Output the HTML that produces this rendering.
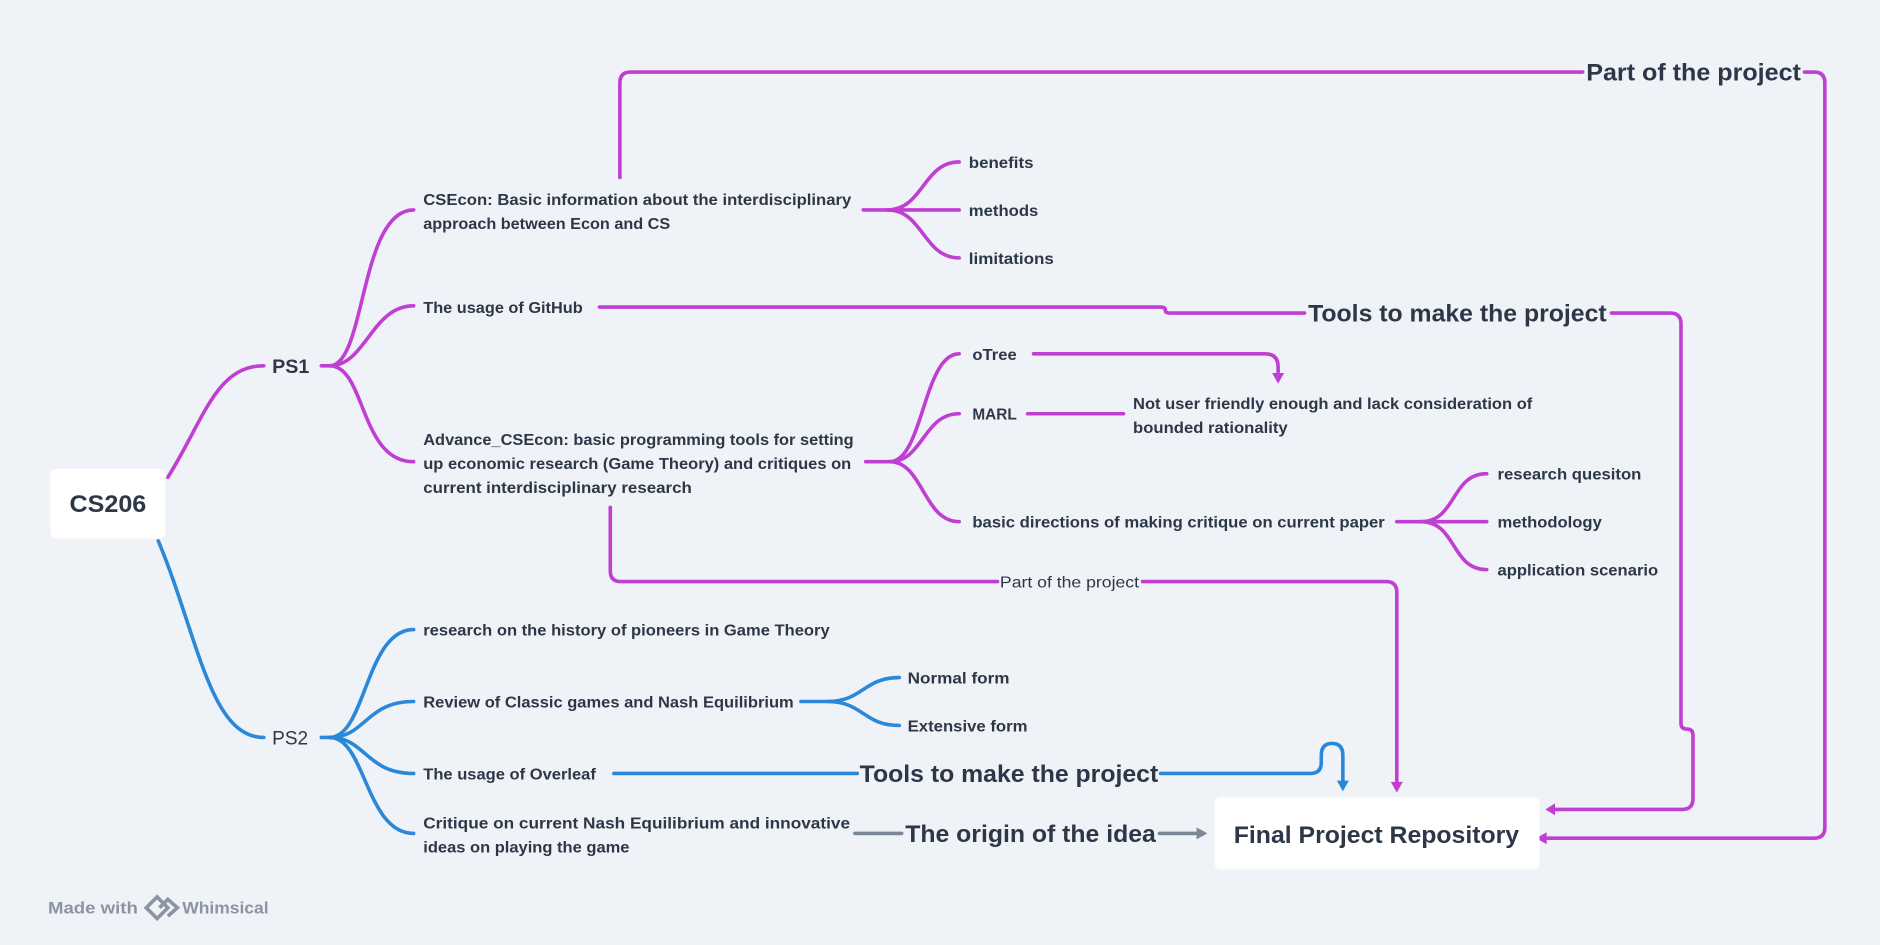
<!DOCTYPE html>
<html><head><meta charset="utf-8"><style>
html,body{margin:0;padding:0;background:#eff3f7;}
svg{display:block}
text{font-family:"Liberation Sans",sans-serif;fill:#2d3748;}
.b{font-weight:bold}
</style></head><body>
<svg width="1880" height="945" viewBox="0 0 1568 788" xmlns="http://www.w3.org/2000/svg">
<rect width="1568" height="788" fill="#eff3f7"/>
<g fill="none" stroke-width="3" stroke-linecap="round">
<g stroke="#c03fd3">
<path d="M140 398 C170 350,180 305,220 305"/>
<path d="M268 305 L275 305 C305 305,300 175,345 175"/>
<path d="M275 305 C305 305,310 255,345 255"/>
<path d="M275 305 C305 305,300 385,345 385"/>
<path d="M720 175 L740 175 C770 175,770 135,800 135"/>
<path d="M740 175 L800 175"/>
<path d="M740 175 C770 175,770 215,800 215"/>
<path d="M722 385 L742 385 C770 385,770 295,800 295"/>
<path d="M742 385 C770 385,770 345,800 345"/>
<path d="M742 385 C770 385,770 435,800 435"/>
<path d="M1165 435 L1185 435 C1215 435,1210 395,1240 395"/>
<path d="M1185 435 L1240 435"/>
<path d="M1185 435 C1215 435,1210 475,1240 475"/>
<path d="M862 295 L1055 295 Q1066 295,1066 306 L1066 312"/>
<path d="M857 345 L937 345"/>
<path d="M500 256 L968 256 Q972 256,972 259 Q972 261,976 261 L1088 261"/>
<path d="M1344 261 L1393 261 Q1402 261,1402 270 L1402 603 Q1402 608,1407 608 Q1412 608,1412 613 L1412 666 Q1412 675,1403 675 L1296 675"/>
<path d="M517 148 L517 69 Q517 60,526 60 L1320 60"/>
<path d="M1505 60 L1513 60 Q1522 60,1522 69 L1522 690 Q1522 699,1513 699 L1290 699"/>
<path d="M509 423 L509 476 Q509 485,518 485 L832 485"/>
<path d="M953 485 L1156 485 Q1165 485,1165 494 L1165 652"/>
</g>
<g stroke="#2b88d8">
<path d="M132 451 C165 530,175 615,220 615"/>
<path d="M268 615 L275 615 C305 615,305 525,345 525"/>
<path d="M275 615 C305 615,305 585,345 585"/>
<path d="M275 615 C305 615,305 645,345 645"/>
<path d="M275 615 C305 615,305 695,345 695"/>
<path d="M668 585 L690 585 C720 585,720 565,750 565"/>
<path d="M690 585 C720 585,720 605,750 605"/>
<path d="M512 645 L715 645"/>
<path d="M968 645 L1093 645 Q1102 645,1102 636 L1102 630 Q1102 620,1111 620 Q1120 620,1120 630 L1120 652"/>
</g>
<g stroke="#7a8796">
<path d="M713 695 L752 695"/>
<path d="M967 695 L1000 695"/>
</g>
</g>
<g fill="#c03fd3">
<polygon points="1061,311 1071,311 1066,320"/>
<polygon points="1160,652 1170,652 1165,661"/>
<polygon points="1297,670 1297,680 1289,675"/>
<polygon points="1290,694 1290,704 1281,699"/>
</g>
<polygon fill="#2b88d8" points="1115,651 1125,651 1120,660"/>
<polygon fill="#7a8796" points="998,690 998,700 1007,695"/>
<rect x="42" y="391" width="96" height="58" rx="5" fill="#fff"/>
<rect x="1013" y="665" width="271" height="60" rx="5" fill="#fff"/>
<g class="b">
<text x="58" y="427" font-size="20" textLength="64" lengthAdjust="spacingAndGlyphs">CS206</text>
<text x="227" y="311" font-size="16" textLength="31" lengthAdjust="spacingAndGlyphs">PS1</text>
<text x="1029" y="703" font-size="20" textLength="238" lengthAdjust="spacingAndGlyphs">Final Project Repository</text>
<text x="1323" y="67" font-size="20" textLength="179" lengthAdjust="spacingAndGlyphs">Part of the project</text>
<text x="1091" y="268" font-size="20" textLength="249" lengthAdjust="spacingAndGlyphs">Tools to make the project</text>
<text x="717" y="652" font-size="20" textLength="249" lengthAdjust="spacingAndGlyphs">Tools to make the project</text>
<text x="755" y="702" font-size="20" textLength="209" lengthAdjust="spacingAndGlyphs">The origin of the idea</text>
</g>
<text x="227" y="621" font-size="16" textLength="30" lengthAdjust="spacingAndGlyphs">PS2</text>
<text x="834" y="490" font-size="13" textLength="116" lengthAdjust="spacingAndGlyphs">Part of the project</text>
<g class="b" font-size="13">
<text x="353" y="171" textLength="357" lengthAdjust="spacingAndGlyphs">CSEcon: Basic information about the  interdisciplinary</text>
<text x="353" y="191" textLength="206" lengthAdjust="spacingAndGlyphs">approach between Econ and CS</text>
<text x="353" y="261" textLength="133" lengthAdjust="spacingAndGlyphs">The usage of GitHub</text>
<text x="353" y="371" textLength="359" lengthAdjust="spacingAndGlyphs">Advance_CSEcon: basic programming tools for setting</text>
<text x="353" y="391" textLength="357" lengthAdjust="spacingAndGlyphs">up economic research (Game Theory) and critiques on</text>
<text x="353" y="411" textLength="224" lengthAdjust="spacingAndGlyphs">current interdisciplinary research</text>
<text x="808" y="140" textLength="54" lengthAdjust="spacingAndGlyphs">benefits</text>
<text x="808" y="180" textLength="58" lengthAdjust="spacingAndGlyphs">methods</text>
<text x="808" y="220" textLength="71" lengthAdjust="spacingAndGlyphs">limitations</text>
<text x="811" y="300" textLength="37" lengthAdjust="spacingAndGlyphs">oTree</text>
<text x="811" y="350" textLength="37" lengthAdjust="spacingAndGlyphs">MARL</text>
<text x="945" y="341" textLength="333" lengthAdjust="spacingAndGlyphs">Not user friendly enough and lack consideration of</text>
<text x="945" y="361" textLength="129" lengthAdjust="spacingAndGlyphs">bounded rationality</text>
<text x="811" y="440" textLength="344" lengthAdjust="spacingAndGlyphs">basic directions of making critique on current paper</text>
<text x="1249" y="400" textLength="120" lengthAdjust="spacingAndGlyphs">research quesiton</text>
<text x="1249" y="440" textLength="87" lengthAdjust="spacingAndGlyphs">methodology</text>
<text x="1249" y="480" textLength="134" lengthAdjust="spacingAndGlyphs">application scenario</text>
<text x="353" y="530" textLength="339" lengthAdjust="spacingAndGlyphs">research on the history of pioneers in Game Theory</text>
<text x="353" y="590" textLength="309" lengthAdjust="spacingAndGlyphs">Review of Classic games and Nash Equilibrium</text>
<text x="757" y="570" textLength="85" lengthAdjust="spacingAndGlyphs">Normal form</text>
<text x="757" y="610" textLength="100" lengthAdjust="spacingAndGlyphs">Extensive form</text>
<text x="353" y="650" textLength="144" lengthAdjust="spacingAndGlyphs">The usage of Overleaf</text>
<text x="353" y="691" textLength="356" lengthAdjust="spacingAndGlyphs">Critique on current Nash Equilibrium and innovative</text>
<text x="353" y="711" textLength="172" lengthAdjust="spacingAndGlyphs">ideas on playing the game</text>
</g>
<g class="b" font-size="14">
<text x="40" y="762" style="fill:#8a94a3" textLength="75" lengthAdjust="spacingAndGlyphs">Made with</text>
<text x="152" y="762" style="fill:#8a94a3" textLength="72" lengthAdjust="spacingAndGlyphs">Whimsical</text>
</g>
<g fill="none" stroke="#8a94a3" stroke-width="3">
<path d="M122 757 L131 748 L140 757 L131 766 Z"/>
<path d="M133 757 L140 750 L148 757 L140 764"/>
</g>
</svg>
</body></html>
